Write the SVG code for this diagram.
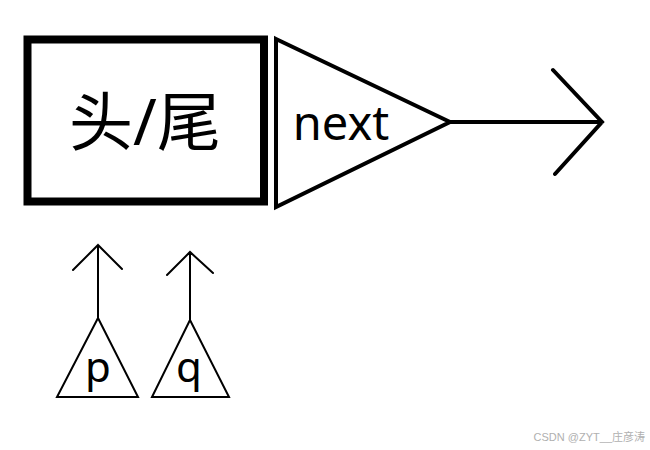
<svg xmlns="http://www.w3.org/2000/svg" width="650" height="450" viewBox="0 0 650 450">
<style>
.ln{fill:none;stroke:#000;stroke-linecap:round;stroke-linejoin:miter}
.t{font-family:"Noto Sans","Noto Sans CJK SC",sans-serif;fill:#000}
</style>
<rect width="650" height="450" fill="#fff"/>
<g id="node-headtail">
<rect x="27.5" y="39.5" width="236.5" height="162" fill="#fff" stroke="#000" stroke-width="8"/>
<text class="t" x="145" y="145" font-size="64" text-anchor="middle">头/尾</text>
</g>
<g id="node-next">
<polygon class="ln" points="276,39 450,122 276,207" stroke-width="4"/>
<text class="t" x="341" y="140" font-size="47" text-anchor="middle">next</text>
</g>
<g id="node-p">
<polygon class="ln" points="98,318 57,397 138,397" stroke-width="2"/>
<text class="t" x="98" y="382" font-size="42" text-anchor="middle">p</text>
</g>
<g id="node-q">
<polygon class="ln" points="190,320 152,397 229,397" stroke-width="2"/>
<text class="t" x="189" y="382" font-size="42" text-anchor="middle">q</text>
</g>
<g id="connectors">
<path class="ln" d="M450,122 H602 M553,70 L602,122 L555,174" stroke-width="4"/>
<path class="ln" d="M98,318 V245 M73,270 L98,245 L122,269" stroke-width="2"/>
<path class="ln" d="M190,320 V252 M167,275 L190,252 L213,273" stroke-width="2"/>
</g>
<text x="645" y="441" font-family="'Liberation Sans','Noto Sans CJK SC',sans-serif" font-size="11" fill="#b0b0b0" text-anchor="end">CSDN @ZYT__庄彦涛</text>
</svg>
